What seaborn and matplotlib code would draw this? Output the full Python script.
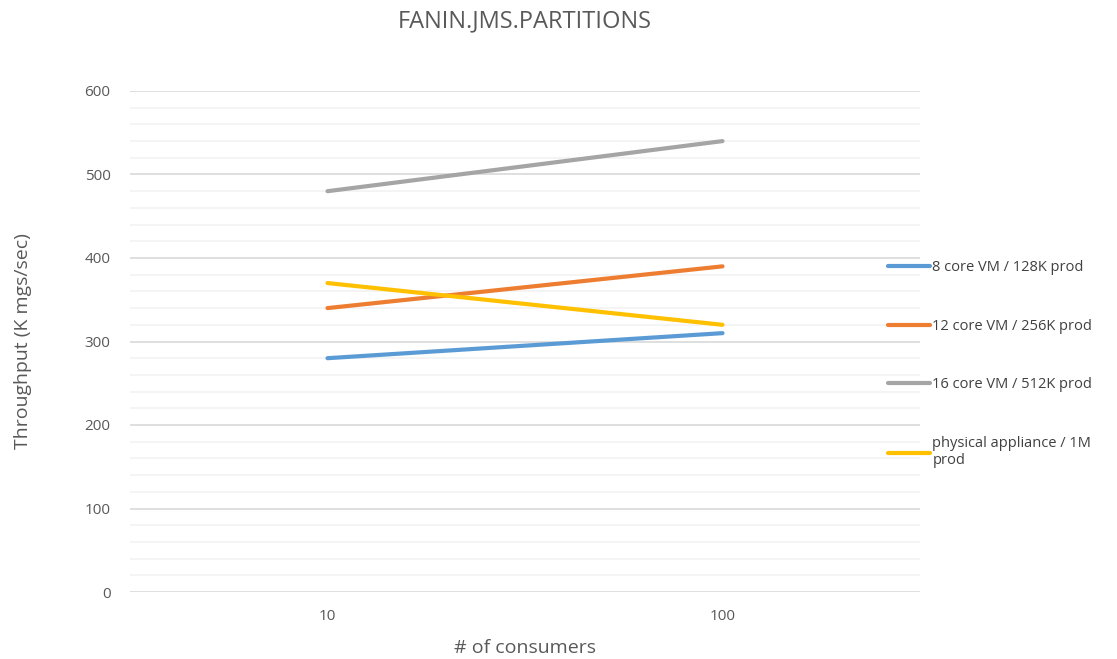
import matplotlib
matplotlib.use("Agg")
import matplotlib.pyplot as plt
import seaborn as sns
import pandas as pd
from matplotlib.ticker import MultipleLocator

consumers = ["10", "100"]
series_names = ["8 core VM / 128K prod", "12 core VM / 256K prod",
                "16 core VM / 512K prod", "physical appliance / 1M prod"]
vm8 = [280, 310]
vm12 = [340, 390]
vm16 = [480, 540]
physical = [370, 320]
colors = ["#5B9BD5", "#ED7D31", "#A5A5A5", "#FFC000"]

rows = []
for name, vals in zip(series_names, [vm8, vm12, vm16, physical]):
    for i, (c, v) in enumerate(zip(consumers, vals)):
        rows.append({"pos": i, "consumers": c, "throughput": v, "series": name})
df = pd.DataFrame(rows)

sns.set_theme(style="white")
plt.rcParams["font.family"] = ["Open Sans", "DejaVu Sans"]

fig = plt.figure(figsize=(11.17, 6.59), dpi=100)
ax = fig.add_axes([130/1117, 1-592/659, (920-130)/1117, (592-91)/659])

sns.lineplot(data=df, x="pos", y="throughput", hue="series", hue_order=series_names,
             palette=colors, linewidth=3, ax=ax, legend=False, solid_capstyle="round")

ax.set_xlim(-0.5, 1.5)
ax.set_ylim(0, 600)
ax.set_xticks([0, 1])
ax.set_xticklabels(consumers)
ax.yaxis.set_major_locator(MultipleLocator(100))
ax.yaxis.set_minor_locator(MultipleLocator(20))
ax.grid(which="major", axis="y", color="#D9D9D9", linewidth=1.2)
ax.grid(which="minor", axis="y", color="#F2F2F2", linewidth=1.2)
ax.set_axisbelow(True)
for s in ax.spines.values():
    s.set_visible(False)
ax.tick_params(axis="both", which="both", length=0, labelsize=11, colors="#595959")
ax.tick_params(axis="y", pad=14)
ax.tick_params(axis="x", pad=12)
ax.set_xlabel("# of consumers", fontsize=14, color="#595959", labelpad=11)
ax.set_ylabel("Throughput (K mgs/sec)", fontsize=14, color="#595959", labelpad=38)
ax.set_title("FANIN.JMS.PARTITIONS", fontsize=17, color="#595959", pad=46)

handles = [plt.Line2D([], [], color=c, linewidth=3) for c in colors]
labels = [n if n != "physical appliance / 1M prod" else "physical appliance / 1M\nprod"
          for n in series_names]
fig.legend(handles, labels, loc="upper left", bbox_to_anchor=(888/1117, 1-260/659),
           frameon=False, fontsize=10.5, labelcolor="#404040", handlelength=2.9,
           handletextpad=0.15, labelspacing=3.0, borderaxespad=0, borderpad=0)

fig.savefig("out.png", dpi=100)
